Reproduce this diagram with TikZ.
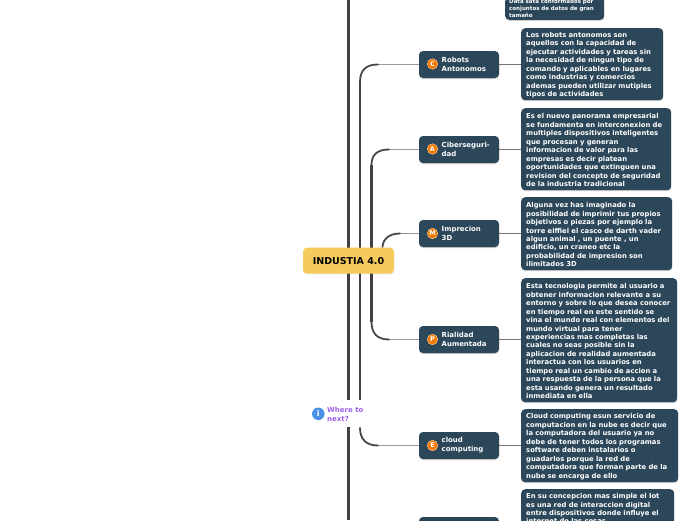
\documentclass[tikz,border=0pt]{standalone}
\usepackage{fontspec}
\setmainfont{DejaVu Sans}
\usetikzlibrary{shadows}
\definecolor{boxc}{HTML}{2C475A}
\definecolor{rootc}{HTML}{F6CB5E}
\definecolor{purp}{HTML}{A060F0}
\definecolor{infoc}{HTML}{4A8FE8}
\tikzset{
  x=1pt,y=-1pt,
  boxbase/.style={fill=boxc,rounded corners=4pt,text=white,align=left,inner ysep=0pt,drop shadow={shadow xshift=0pt,shadow yshift=-1pt,opacity=.3,fill=black!60}},
  detailbox/.style={boxbase,anchor=north west,inner xsep=5pt,font=\fontsize{6.8}{8.45}\selectfont\bfseries,execute at begin node={\rule{0pt}{7.2pt}}},
  trunk/.style={draw=black!75,line width=2.1pt},
  branch/.style={draw=black!72,line width=1.8pt,line cap=round},
  link/.style={draw=black!40,line width=1.3pt},
  badge/.style={circle,minimum size=10.5pt,inner sep=0pt,fill=orange!95!black,draw=orange!45,line width=.5pt,text=white,font=\fontsize{6.5}{7}\selectfont\bfseries},
}
\begin{document}
\begin{tikzpicture}
\useasboundingbox (0,0) rectangle (696,520);
\clip (0,0) rectangle (696,520);
\fill[white] (0,0) rectangle (696,520);
% nodes: topics (text is inset past the badge)
\foreach \n/\y/\t in {rob/51/{Robots\\Antonomos},cib/136/{Ciberseguri-\\dad},imp/220/{Imprecion\\3D},ria/326/{Rialidad\\Aumentada},clo/432/{cloud\\computing},iot/517/{}}{
  \path[boxbase] (419,\y) rectangle ++(80,27);
  \node[anchor=west,inner sep=0pt,text=white,align=left,font=\fontsize{6.95}{9}\selectfont\bfseries] at (441.5,\y+13.5) {\t};
  \coordinate (\n) at (419,\y+13.5);
  \coordinate (\n e) at (499,\y+13.5);
}
\node[badge] (robb) at (432.5,64) {C};
\node[badge] (cibb) at (432.5,149) {A};
\node[badge] (impb) at (432.5,233.5) {M};
\node[badge] (riab) at (432.5,339.5) {P};
\node[badge] (clob) at (432.5,445.5) {E};
% details
\node[boxbase,anchor=south west,minimum width=99pt,inner xsep=4pt,inner ysep=2.4pt,font=\fontsize{5.5}{6.75}\selectfont\bfseries,text width=91pt] (big) at (505,20) {Data sata conformados por\\conjuntos de datos de gran\\tamaño};
\node[detailbox,text width=132pt,minimum height=72pt] (d1) at (521,28) {Los robots antonomos son\\aquellos con la capacidad de\\ejecutar actividades y tareas sin\\la necesidad de ningun tipo de\\comando y aplicables en lugares\\como industrias y comercios\\ademas pueden utilizar mutiples\\tipos de actividades};
\node[detailbox,text width=140pt,minimum height=82pt] (d2) at (521,108) {Es el nuevo panorama empresarial\\se fundamenta en interconexion de\\multiples dispositivos inteligentes\\que procesan y generan\\informacion de valor para las\\empresas es decir platean\\oportunidades que extinguen una\\revision del concepto de seguridad\\de la industria tradicional};
\node[detailbox,text width=141pt,minimum height=73pt] (d3) at (521,197) {Alguna vez has imaginado la\\posibilidad de imprimir tus propios\\objetivos o piezas por ejemplo la\\torre eiffiel el casco de darth vader\\algun animal , un puente , un\\edificio, un craneo etc la\\probabilidad de impresion son\\ilimitados 3D};
\node[detailbox,text width=146pt,minimum height=124pt] (d4) at (521,278) {Esta tecnologia permite al usuario a\\obtener informacion relevante a su\\entorno y sobre lo que desea conocer\\en tiempo real en este sentido se\\vina el mundo real con elementos del\\mundo virtual para tener\\experiencias mas completas las\\cuales no seas posible sin la\\aplicacion de realidad aumentada\\interactua con los usuarios en\\tiempo real un cambio de accion a\\una respuesta de la persona que la\\esta usando genera un resultado\\inmediata en ella};
\node[detailbox,text width=147pt,minimum height=73pt] (d5) at (521,409) {Cloud computing esun servicio de\\computacion en la nube es decir que\\la computadora del usuario ya no\\debe de tener todos los programas\\software deben instalarios o\\guadarlos porque la red de\\computadora que forman parte de la\\nube se encarga de ello};
\node[detailbox,text width=143pt,inner ysep=2.2pt] (d6) at (521,489) {En su concepcion mas simple el Iot\\es una red de interaccion digital\\entre dispositivos donde influye el\\internet de las cosas};
% connectors topic to detail
\foreach \a/\b in {rob/d1,cib/d2,imp/d3,ria/d4,clo/d5}{
  \draw[link,draw=black!55] (\a e) -- (\a e -| \b.west);
}
% trunk lines
\draw[trunk] (348.5,0) -- (348.5,400);
\draw[trunk] (348.5,427) -- (348.5,520);
\draw[trunk] (360,82) -- (360,400);
\draw[trunk] (371.5,165) -- (371.5,322);
% curves
\draw[link] (rob) -- ++(-41,0);
\draw[branch] (360,82) .. controls (360,70) and (366,64.5) .. (378,64.5);
\draw[link] (cib) -- ++(-30,0);
\draw[branch] (371.5,165) .. controls (371.5,155) and (377,149.5) .. (389,149.5);
\draw[link] (imp) -- ++(-19,0);
\draw[branch] (382.5,247) .. controls (383,239) and (389,233.5) .. (400,233.5);
\draw[link] (ria) -- ++(-30,0);
\draw[branch] (371.5,322) .. controls (371.5,333) and (377,339.5) .. (389,339.5);
\draw[link] (clo) -- ++(-41,0);
\draw[branch] (360,428) .. controls (360,439) and (366,445.5) .. (378,445.5);
% root
\node[fill=rootc,rounded corners=4pt,minimum width=91pt,minimum height=26pt,inner sep=0pt,font=\fontsize{9.5}{10}\selectfont\bfseries,drop shadow={shadow xshift=0pt,shadow yshift=-.6pt,opacity=.15}] (root) at (348.5,260.7) {INDUSTIA 4.0};
% where to next
\node[circle,minimum size=12.5pt,inner sep=0pt,fill=infoc,text=white,font=\fontsize{8}{8}\selectfont\bfseries] (info) at (318.3,413.8) {i};
\node[anchor=west,inner sep=0pt,align=left,text=purp,font=\fontsize{7}{8.8}\selectfont\bfseries] (next) at (327,414) {Where to\\next?};
\end{tikzpicture}
\end{document}
